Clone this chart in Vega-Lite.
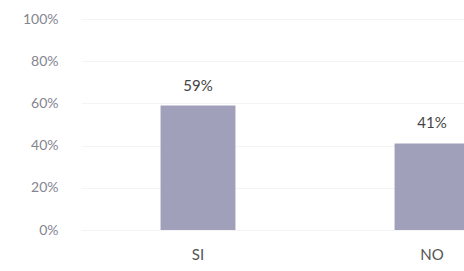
{
  "$schema": "https://vega.github.io/schema/vega-lite/v6.json",
  "autosize": "none",
  "width": 383,
  "height": 211,
  "padding": {"left": 81, "top": 19, "right": 0, "bottom": 41},
  "background": "white",
  "config": {"view": {"stroke": null}, "font": "Lato"},
  "data": {"values": [
    {"cat": "SI", "pct": 0.59},
    {"cat": "NO", "pct": 0.41}
  ]},
  "encoding": {
    "x": {"field": "cat", "type": "nominal", "sort": null,
      "scale": {"range": [0, 468], "paddingInner": 0.68, "paddingOuter": 0.34},
      "axis": {"title": null, "labelAngle": 0, "domain": false, "ticks": false, "labelPadding": 17, "labelFontSize": 15, "labelColor": "#555555", "labelFont": "Lato"}},
    "y": {"field": "pct", "type": "quantitative",
      "scale": {"domain": [0, 1]},
      "axis": {"title": null, "format": ".0%", "values": [0, 0.2, 0.4, 0.6, 0.8, 1], "domain": false, "ticks": false, "labelPadding": 23, "labelFontSize": 14, "labelColor": "#85858f", "labelFont": "Lato", "gridColor": "#f4f4f4"}}
  },
  "layer": [
    {"mark": {"type": "bar", "color": "#a0a0bb"}},
    {"mark": {"type": "text", "baseline": "alphabetic", "dy": -15, "fontSize": 15, "color": "#444444", "font": "Lato"},
     "encoding": {"text": {"field": "pct", "type": "quantitative", "format": ".0%"}}}
  ]
}
